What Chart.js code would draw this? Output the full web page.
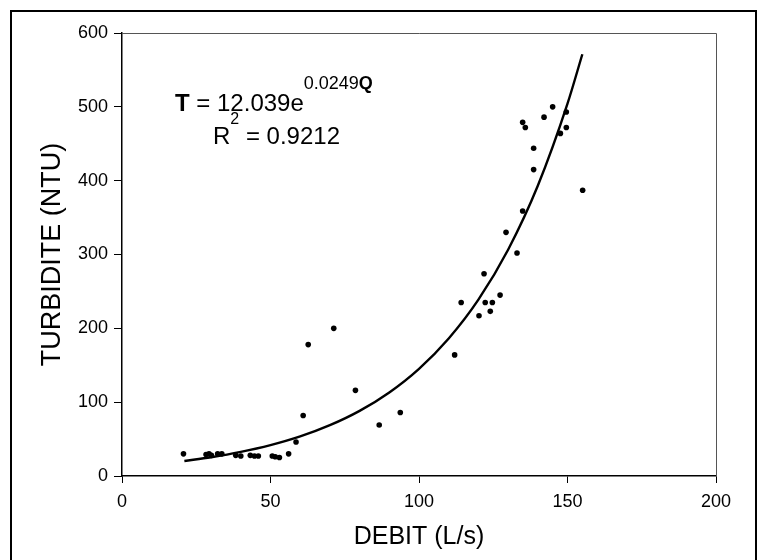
<!DOCTYPE html>
<html><head><meta charset="utf-8">
<script src="https://cdn.jsdelivr.net/npm/chart.js@4"></script>
<style>html,body{margin:0;padding:0;background:#fff;}#wrap{width:759px;height:560px;position:relative;}</style>
</head><body><div id="wrap"><canvas id="c" width="759" height="560"></canvas></div>
<script>
// Observed points (DEBIT L/s, TURBIDITE NTU)
const debit = [20.7,28.3,29.3,30.1,32.2,33.6,38.3,40.0,43.2,44.6,45.9,50.6,51.6,53.0,56.1,58.6,61.0,62.7,71.3,78.6,86.6,93.7,112.0,114.2,120.2,121.9,122.3,124.0,124.7,127.3,129.3,133.0,134.9,134.9,135.8,138.6,138.6,142.1,145.0,147.6,149.6,149.6,155.1];
const turbidite = [30,29,30,28,30,30,28,27,28,27,27,27,26,25,30,46,82,178,200,116,69,86,164,235,217,274,235,223,235,245,330,302,359,479,472,415,444,486,500,464,493,472,387];
// Trend curve
const trendDebit = [21,30,40,50,60,70,80,90,100,110,120,130,140,150,155];
const trendTurbidite = [20.3,25.4,32.6,41.8,53.6,68.8,88.2,113.2,145.2,186.3,238.9,306.5,393.1,504.3,571.2];
const xTicks = [0,50,100,150,200];
const yTicks = [0,100,200,300,400,500,600];
const xTitle = 'DEBIT (L/s)';
const yTitle = 'TURBIDITE (NTU)';

const FONT = '"Liberation Sans", Arial, sans-serif';

const decor = {
  id: 'decor',
  afterDraw(chart) {
    const {ctx, chartArea: a} = chart;
    ctx.save();
    ctx.strokeStyle = '#000'; ctx.lineWidth = 2;
    ctx.strokeRect(11, 11, 745, 560);
    ctx.strokeStyle = '#555'; ctx.lineWidth = 1;
    ctx.beginPath();
    ctx.moveTo(a.left, a.top + 0.5);
    ctx.lineTo(a.right + 0.5, a.top + 0.5);
    ctx.lineTo(a.right + 0.5, a.bottom);
    ctx.stroke();
    ctx.fillStyle = '#000';
    ctx.textBaseline = 'alphabetic';
    ctx.textAlign = 'left';
    let x = a.left + 53, y = a.top + 78;
    ctx.font = 'bold 24px ' + FONT; ctx.fillText('T', x, y); x += ctx.measureText('T').width;
    ctx.font = '24px ' + FONT; ctx.fillText(' = 12.039e', x, y); x += ctx.measureText(' = 12.039e').width;
    ctx.font = '18px ' + FONT; ctx.fillText('0.0249', x, y - 22); x += ctx.measureText('0.0249').width;
    ctx.font = 'bold 18px ' + FONT; ctx.fillText('Q', x, y - 22);
    x = a.left + 91; y = a.top + 111;
    ctx.font = '24px ' + FONT; ctx.fillText('R', x, y); x += ctx.measureText('R').width;
    ctx.font = '16px ' + FONT; ctx.fillText('2', x, y - 20); x += ctx.measureText('2').width;
    ctx.font = '24px ' + FONT; ctx.fillText(' = 0.9212', x, y);
    ctx.restore();
  }
};

new Chart(document.getElementById('c'), {
  type: 'scatter',
  data: {
    datasets: [
      {
        label: 'points',
        data: debit.map((d, i) => ({x: d, y: turbidite[i]})),
        backgroundColor: '#000', borderWidth: 0, pointRadius: 2.8, pointHoverRadius: 2.8
      },
      {
        label: 'trend',
        data: trendDebit.map((d, i) => ({x: d, y: trendTurbidite[i]})),
        showLine: true, borderColor: '#000', borderWidth: 2.4, pointRadius: 0,
        cubicInterpolationMode: 'monotone', fill: false
      }
    ]
  },
  options: {
    responsive: false, animation: false, devicePixelRatio: 1,
    layout: {padding: {top: 33, right: 43, left: 0, bottom: 0}},
    plugins: {legend: {display: false}, tooltip: {enabled: false}},
    scales: {
      x: {
        type: 'linear', min: 0, max: 200,
        afterBuildTicks: s => { s.ticks = xTicks.map(v => ({value: v})); },
        afterFit: s => { s.height = 84; },
        grid: {display: true, drawOnChartArea: false, drawTicks: true, tickLength: 7, color: '#000', lineWidth: 1},
        border: {display: true, color: '#000', width: 1.5},
        ticks: {color: '#000', font: {family: FONT, size: 18}, padding: 8, maxRotation: 0},
        title: {display: true, text: xTitle, color: '#000', font: {family: FONT, size: 25}, padding: {top: 0, bottom: 8}}
      },
      y: {
        type: 'linear', min: 0, max: 600,
        afterBuildTicks: s => { s.ticks = yTicks.map(v => ({value: v})); },
        afterFit: s => { s.width = 122; },
        grid: {display: true, drawOnChartArea: false, drawTicks: true, tickLength: 8, color: '#000', lineWidth: 1},
        border: {display: true, color: '#000', width: 1.5},
        ticks: {color: '#000', font: {family: FONT, size: 18}, padding: 6},
        title: {display: true, text: yTitle, color: '#000', font: {family: FONT, size: 27}, padding: {top: 36, bottom: 0}}
      }
    }
  },
  plugins: [decor]
});
</script></body></html>
